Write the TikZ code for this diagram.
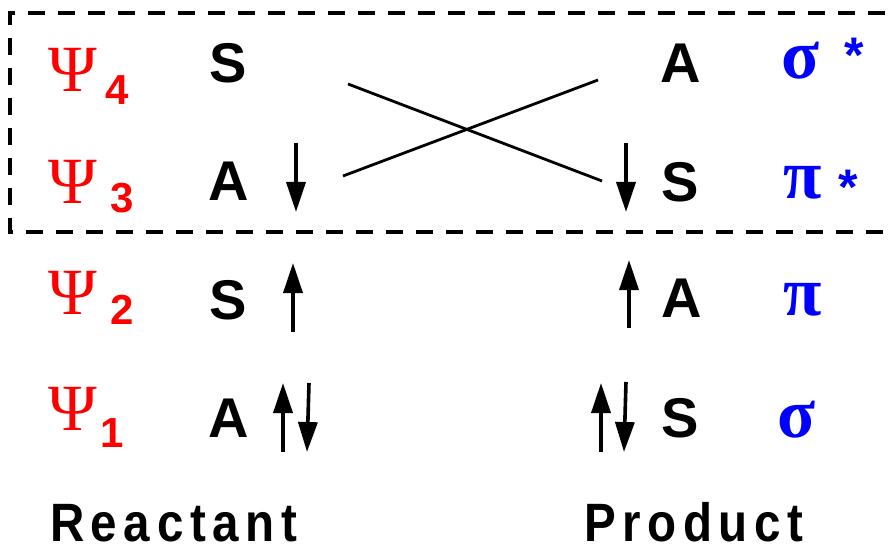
\documentclass[tikz,border=0pt]{standalone}
\usepackage{fontspec}
\usetikzlibrary{arrows.meta}
\newfontfamily\lsans{Liberation Sans}
\newfontfamily\lserif{Liberation Serif}
\newfontfamily\lsansspaced{Liberation Sans}[LetterSpace=14]
\definecolor{psired}{RGB}{255,0,0}
\definecolor{orbblue}{RGB}{0,0,255}
\newcommand\narrowcap[1]{\scalebox{0.88}[1]{#1}}
\begin{document}
\begin{tikzpicture}[x=1pt,y=-1pt,
  every node/.style={inner sep=0pt,outer sep=0pt},
  sym/.style={font=\lsans\bfseries\fontsize{56}{60}\selectfont},
  psi/.style={text=psired,font=\lserif\fontsize{66}{70}\selectfont},
  sub/.style={text=psired,font=\lsans\bfseries\fontsize{42}{46}\selectfont},
  orb/.style={text=orbblue,font=\lserif\bfseries\fontsize{70}{74}\selectfont},
  star/.style={text=orbblue,anchor=north,font=\lsans\bfseries\fontsize{50}{54}\selectfont},
  caption/.style={anchor=base west,font=\lsansspaced\bfseries\fontsize{54}{58}\selectfont},
  spin/.style={line width=3.6pt,-{Triangle[length=30pt,width=19pt]}},
  corr/.style={line width=2.8pt},
  frame/.style={line width=3.2pt,dash pattern=on 17pt off 13pt}]
\useasboundingbox (0,0) rectangle (894,548);

% frame round the two upper levels
\draw[frame] (915,13) -- (10,13) -- (10,232) -- (915,232);

% reactant orbital labels
\node[psi] (p4) at (73,70) {Ψ};
\node[sub] (n4) at (117,90) {4};
\node[psi] (p3) at (73,182) {Ψ};
\node[sub] (n3) at (122,198) {3};
\node[psi] (p2) at (73,293) {Ψ};
\node[sub] (n2) at (122,310) {2};
\node[psi] (p1) at (73,409) {Ψ};
\node[sub] (n1) at (112,433) {1};

% reactant symmetry labels
\node[sym] (rS4) at (228,63) {S};
\node[sym] (rA3) at (229,181) {A};
\node[sym] (rS2) at (228,300) {S};
\node[sym] (rA1) at (229,418) {A};

% product symmetry labels
\node[sym] (pA4) at (681,63) {A};
\node[sym] (pS3) at (680,182) {S};
\node[sym] (pA2) at (682,298) {A};
\node[sym] (pS1) at (680,418) {S};

% product orbital names
\node[orb] (sigstar) at (801,61) {σ};
\node[star] (st1) at (854,38) {*};
\node[orb] (pistar) at (803,183) {π};
\node[star] (st2) at (848,170) {*};
\node[orb] (pi) at (803,300) {π};
\node[orb] (sig) at (797,420) {σ};

% correlation lines
\coordinate (c4a) at (348,84);
\coordinate (c3b) at (602,181);
\coordinate (c3a) at (343,176);
\coordinate (c4b) at (598,80);
\draw[corr] (c4a) -- (c3b);
\draw[corr] (c3a) -- (c4b);

% electron spins, reactant side
\coordinate (r3t) at (296,143); \coordinate (r3b) at (296,212);
\coordinate (r2t) at (293,263); \coordinate (r2b) at (293,332);
\coordinate (r1ut) at (283,383); \coordinate (r1ub) at (283,452);
\coordinate (r1dt) at (309,383); \coordinate (r1db) at (307,452);
\draw[spin] (r3t) -- (r3b);
\draw[spin] (r2b) -- (r2t);
\draw[spin] (r1ub) -- (r1ut);
\draw[spin] (r1dt) -- (r1db);

% electron spins, product side
\coordinate (q3t) at (626,143); \coordinate (q3b) at (626,212);
\coordinate (q2t) at (629,260); \coordinate (q2b) at (629,328);
\coordinate (q1ut) at (601,383); \coordinate (q1ub) at (601,452);
\coordinate (q1dt) at (626,382); \coordinate (q1db) at (624,452);
\draw[spin] (q3t) -- (q3b);
\draw[spin] (q2b) -- (q2t);
\draw[spin] (q1ub) -- (q1ut);
\draw[spin] (q1dt) -- (q1db);

% side captions
\node[caption] (react) at (50,541) {\narrowcap{Reactant}};
\node[caption] (prod) at (584,541) {\narrowcap{Product}};
\end{tikzpicture}
\end{document}
